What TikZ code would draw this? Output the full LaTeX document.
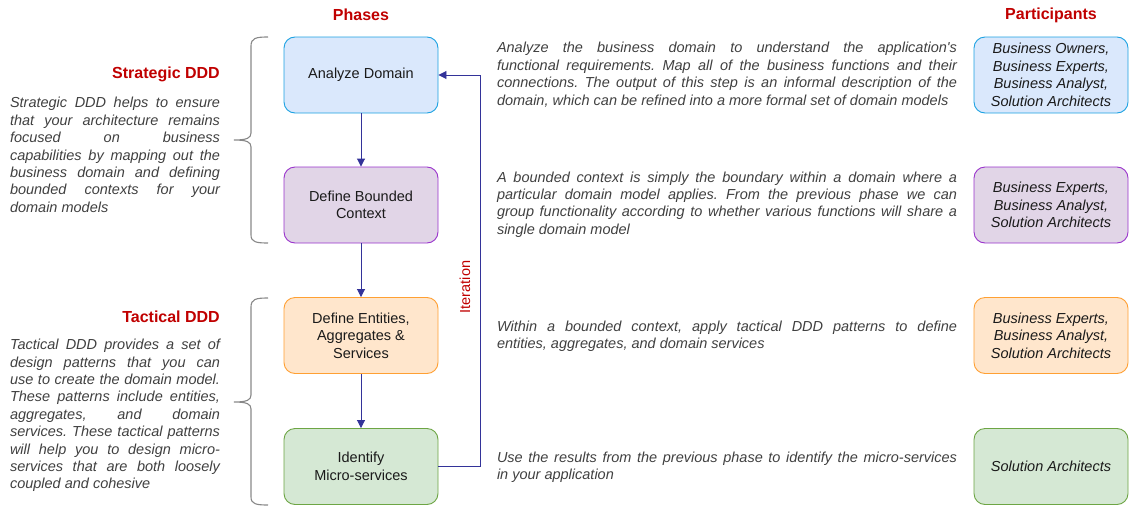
\documentclass[tikz,border=0pt]{standalone}
\usepackage{fontspec}
\setmainfont{Liberation Sans}
\usetikzlibrary{arrows.meta}
\definecolor{titlered}{HTML}{C00000}
\definecolor{bluefill}{HTML}{DAE8FC}
\definecolor{bluedraw}{HTML}{1BA1E2}
\definecolor{purplefill}{HTML}{E1D5E7}
\definecolor{purpledraw}{HTML}{9933CC}
\definecolor{orangefill}{HTML}{FFE6CC}
\definecolor{orangedraw}{HTML}{FFA033}
\definecolor{greenfill}{HTML}{D5E8D4}
\definecolor{greendraw}{HTML}{6DA544}
\definecolor{arrowcol}{HTML}{333399}
\definecolor{bracecol}{HTML}{888888}
\definecolor{desctext}{HTML}{404040}
\definecolor{boxtext}{HTML}{1A1A1A}
\frenchspacing
\tolerance=10000
\hbadness=10000
\hyphenpenalty=10000
\exhyphenpenalty=10000
\tikzset{
  bodyfont/.style={font=\fontsize{14.5}{17.6}\selectfont},
  phasebox/.style={draw, rounded corners=11pt, minimum width=154pt, minimum height=76pt,
    align=center, bodyfont, text=boxtext, line width=0.9pt, inner sep=2pt},
  partbox/.style={phasebox, font=\fontsize{14.5}{17.6}\selectfont\itshape},
  desc/.style={text width=460pt, align=justify, inner sep=0pt, text=desctext,
    font=\fontsize{14.5}{17.4}\selectfont\itshape},
  sidetext/.style={desc, text width=210pt},
  title/.style={text=titlered, font=\fontsize{16}{19}\selectfont\bfseries, inner sep=0pt},
  flow/.style={draw=arrowcol, line width=0.9pt, -{Triangle[width=8pt,length=8pt]}},
  brace/.style={draw=bracecol, line width=1.1pt},
}
\begin{document}
\begin{tikzpicture}[x=1pt,y=-1pt]
\useasboundingbox (0,0) rectangle (1129,506);
% titles
\node[title] (phases) at (361,15) {Phases};
\node[title] (participants) at (1051,15) {Participants};
\node[title, anchor=east] (strat) at (220,74) {Strategic DDD};
\node[title, anchor=east] (tact) at (220,317) {Tactical DDD};
% side texts
\node[sidetext] (strattext) at (115,155) {Strategic DDD helps to ensure\linebreak that your architecture remains\linebreak focused on business\linebreak capabilities by mapping out the\linebreak business domain and defining\linebreak bounded contexts for your\linebreak domain models};
\node[sidetext] (tacttext) at (115,415.5) {Tactical DDD provides a set of\linebreak design patterns that you can\linebreak use to create the domain model.\linebreak These patterns include entities,\linebreak aggregates, and domain\linebreak services. These tactical patterns\linebreak will help you to design micro-\linebreak services that are both loosely\linebreak coupled and cohesive};
% braces
\draw[brace] (268,37) .. controls (256,37) and (251,38) .. (251,46) -- (251,133)
  .. controls (251,138) and (247,140) .. (234,140)
  .. controls (247,140) and (251,142) .. (251,147) -- (251,235)
  .. controls (251,242) and (256,243) .. (268,243);
\draw[brace] (268,298) .. controls (256,298) and (251,299) .. (251,307) -- (251,395)
  .. controls (251,400) and (247,402) .. (234,402)
  .. controls (247,402) and (251,404) .. (251,409) -- (251,497)
  .. controls (251,504) and (256,505) .. (268,505);
% phases
\node[phasebox, fill=bluefill, draw=bluedraw] (analyze) at (361,75) {Analyze Domain};
\node[phasebox, fill=purplefill, draw=purpledraw] (bounded) at (361,205) {Define Bounded\\Context};
\node[phasebox, fill=orangefill, draw=orangedraw] (entities) at (361,335.5) {Define Entities,\\Aggregates \&\\Services};
\node[phasebox, fill=greenfill, draw=greendraw] (identify) at (361,466.5) {Identify\\Micro-services};
\draw[flow] (analyze) -- (bounded);
\draw[flow] (bounded) -- (entities);
\draw[flow] (entities) -- (identify);
\coordinate (loopb) at (480,466.5);
\coordinate (loopt) at (480,75);
\draw[flow] (identify.east) -- (loopb) -- (loopt) -- (analyze.east);
\node[rotate=90, text=titlered, bodyfont, inner sep=0pt] (iter) at (465,287) {Iteration};
% descriptions
\node[desc] (d1) at (727,74.7) {Analyze the business domain to understand the application\textquotesingle s\linebreak functional requirements. Map all of the business functions and their\linebreak connections. The output of this step is an informal description of the\linebreak domain, which can be refined into a more formal set of domain models};
\node[desc] (d2) at (727,204.5) {A bounded context is simply the boundary within a domain where a\linebreak particular domain model applies. From the previous phase we can\linebreak group functionality according to whether various functions will share a\linebreak single domain model};
\node[desc] (d3) at (727,336) {Within a bounded context, apply tactical DDD patterns to define\linebreak entities, aggregates, and domain services};
\node[desc] (d4) at (727,467) {Use the results from the previous phase to identify the micro-services\linebreak in your application};
% participants
\node[partbox, fill=bluefill, draw=bluedraw] (p1) at (1051,75) {Business Owners,\\Business Experts,\\Business Analyst,\\Solution Architects};
\node[partbox, fill=purplefill, draw=purpledraw] (p2) at (1051,205) {Business Experts,\\Business Analyst,\\Solution Architects};
\node[partbox, fill=orangefill, draw=orangedraw] (p3) at (1051,335.5) {Business Experts,\\Business Analyst,\\Solution Architects};
\node[partbox, fill=greenfill, draw=greendraw] (p4) at (1051,466.5) {Solution Architects};
\end{tikzpicture}
\end{document}
